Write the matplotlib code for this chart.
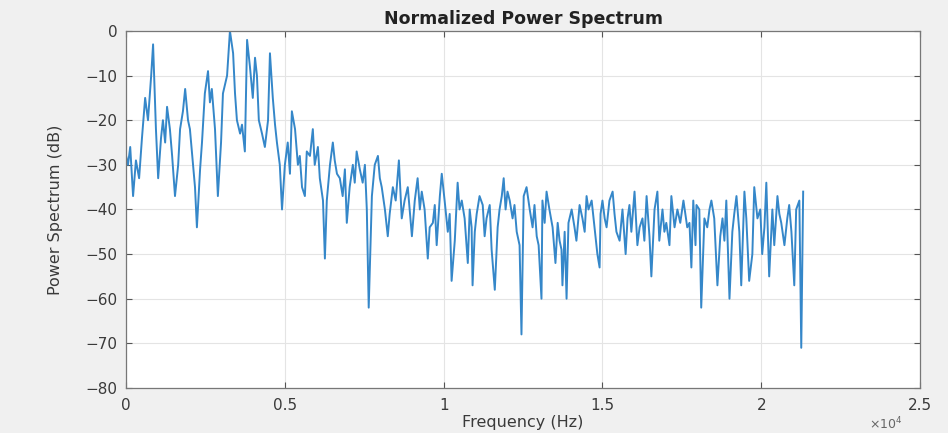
import matplotlib.pyplot as plt
from matplotlib.ticker import FuncFormatter

# spectrum samples: frequency (Hz) and normalized power (dB)
freq_hz = [
    0, 60, 130, 220, 310, 410, 500, 600, 690, 790, 850, 940, 1010, 1100, 1160, 1230,
    1290, 1380, 1450, 1540, 1640, 1700, 1790, 1860, 1950, 2010, 2110, 2170, 2230, 2330,
    2390, 2480, 2580, 2640, 2700, 2800, 2890, 2990, 3050, 3180, 3270, 3370, 3430, 3490,
    3590, 3650, 3740, 3810, 3900, 3990, 4060, 4120, 4180, 4280, 4370, 4470, 4530, 4620,
    4690, 4750, 4840, 4910, 5000, 5090, 5160, 5220, 5320, 5410, 5470, 5540, 5630, 5690,
    5790, 5880, 5940, 6040, 6100, 6200, 6260, 6320, 6420, 6510, 6570, 6640, 6730, 6820,
    6890, 6950, 7040, 7140, 7200, 7260, 7360, 7450, 7520, 7580, 7640, 7740, 7830, 7930,
    7990, 8050, 8150, 8240, 8300, 8400, 8490, 8590, 8680, 8770, 8870, 8930, 9000, 9090,
    9180, 9250, 9310, 9400, 9500, 9560, 9660, 9720, 9780, 9880, 9940, 10030, 10130, 10190,
    10250, 10350, 10440, 10500, 10570, 10660, 10760, 10820, 10880, 10910, 10980, 11040,
    11130, 11230, 11290, 11350, 11450, 11510, 11610, 11700, 11760, 11830, 11890, 11950,
    12010, 12080, 12170, 12230, 12300, 12390, 12450, 12520, 12610, 12710, 12800, 12860,
    12930, 12990, 13080, 13110, 13180, 13240, 13330, 13430, 13520, 13590, 13650, 13710,
    13740, 13810, 13870, 13930, 14030, 14120, 14180, 14280, 14370, 14440, 14500, 14560,
    14660, 14750, 14840, 14910, 14940, 15000, 15070, 15130, 15220, 15320, 15380, 15440,
    15540, 15630, 15730, 15790, 15850, 15910, 16010, 16100, 16170, 16260, 16320, 16390,
    16480, 16540, 16640, 16730, 16790, 16890, 16950, 17010, 17110, 17170, 17270, 17360,
    17450, 17550, 17610, 17670, 17740, 17800, 17860, 17930, 17960, 18050, 18110, 18210,
    18300, 18370, 18430, 18520, 18620, 18710, 18780, 18840, 18900, 19000, 19090, 19150,
    19220, 19310, 19370, 19470, 19530, 19620, 19720, 19780, 19880, 19970, 20030, 20100,
    20160, 20250, 20350, 20410, 20510, 20570, 20630, 20730, 20820, 20880, 20950, 21040,
    21100, 21200, 21260, 21320,
]
power_db = [
    -28, -30, -26, -37, -29, -33, -24, -15, -20, -10, -3, -22, -33, -24, -20, -25,
    -17, -22, -28, -37, -30, -22, -18, -13, -20, -22, -30, -35, -44, -31,
    -25, -14, -9, -16, -13, -22, -37, -25, -14, -10, 0, -5, -14, -20,
    -23, -21, -27, -2, -8, -15, -6, -10, -20, -23, -26, -20, -5, -15,
    -21, -25, -30, -40, -30, -25, -32, -18, -22, -30, -28, -35, -37, -27,
    -28, -22, -30, -26, -33, -38, -51, -38, -30, -25, -29, -32, -33, -37,
    -31, -43, -35, -30, -34, -27, -31, -34, -30, -40, -62, -37, -30, -28,
    -33, -35, -40, -46, -41, -35, -38, -29, -42, -38, -35, -40, -46, -38,
    -33, -40, -36, -40, -51, -44, -43, -39, -48, -37, -32, -38, -45, -41,
    -56, -47, -34, -40, -38, -42, -52, -40, -44, -57, -45, -41,
    -37, -39, -46, -42, -39, -49, -58, -44, -40, -37, -33, -40,
    -36, -38, -42, -39, -45, -48, -68, -37, -35, -40, -44, -39,
    -46, -48, -60, -38, -43, -36, -40, -44, -52, -43, -47, -49,
    -57, -45, -60, -43, -40, -44, -47, -39, -42, -45, -37, -40,
    -38, -44, -50, -53, -41, -38, -42, -44, -38, -36, -41, -45,
    -47, -40, -50, -42, -39, -45, -36, -48, -44, -42, -47, -37,
    -46, -55, -40, -36, -47, -40, -45, -43, -48, -37, -44, -40,
    -43, -38, -41, -44, -43, -53, -38, -48, -39, -40, -62, -42,
    -44, -40, -38, -42, -57, -46, -42, -47, -38, -60, -45, -41,
    -37, -45, -57, -36, -42, -56, -50, -35, -42, -40, -50, -44,
    -34, -55, -40, -48, -37, -41, -43, -48, -42, -39, -45, -57,
    -40, -38, -71, -36,
]

x_ticks = [0, 5000, 10000, 15000, 20000, 25000]
y_ticks = [-80, -70, -60, -50, -40, -30, -20, -10, 0]

fig = plt.figure(figsize=(9.48, 4.33), dpi=100, facecolor='#f0f0f0')
ax = fig.add_axes([0.133, 0.104, 0.8375, 0.8245])
ax.set_facecolor('white')

ax.plot(freq_hz, power_db, color='#3587c9', linewidth=1.4)

ax.set_xlim(0, 25000)
ax.set_ylim(-80, 0)
ax.set_xticks(x_ticks)
ax.set_yticks(y_ticks)
ax.xaxis.set_major_formatter(FuncFormatter(lambda v, p: f'{v / 1e4:g}'))
ax.grid(True, color='#e4e4e4', linewidth=0.8)
ax.set_axisbelow(True)

ax.tick_params(direction='in', length=4, width=0.8, color='#555555',
               labelsize=11, labelcolor='#3a3a3a', top=True, right=True)
ax.tick_params(axis='x', pad=7)
ax.tick_params(axis='y', pad=6)
for sp in ax.spines.values():
    sp.set_color('#777777')
    sp.set_linewidth(0.9)

ax.set_title('Normalized Power Spectrum', fontsize=12.5, fontweight='bold',
             color='#222222', pad=5)
ax.set_xlabel('Frequency (Hz)', fontsize=11.5, color='#3a3a3a')
ax.set_ylabel('Power Spectrum (dB)', fontsize=11.5, color='#3a3a3a')
ax.xaxis.set_label_coords(0.5, -0.075)
ax.yaxis.set_label_coords(-0.08, 0.5)
ax.text(0.957, -0.1, r'$\times10^{4}$', transform=ax.transAxes,
        fontsize=9, color='#666666', ha='center', va='center')

fig.savefig('out.png', dpi=100, facecolor=fig.get_facecolor())
